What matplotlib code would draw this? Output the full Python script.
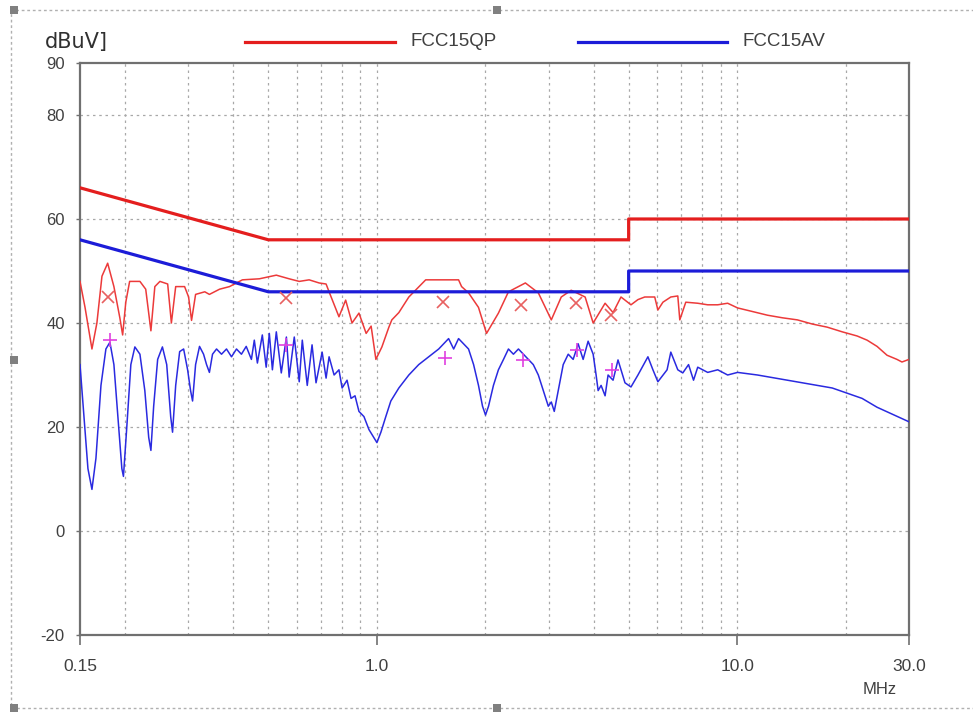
import matplotlib
matplotlib.use("Agg")
import matplotlib.pyplot as plt
from matplotlib.lines import Line2D
from matplotlib.patches import Rectangle
from matplotlib.ticker import FixedLocator, NullFormatter

plt.rcParams['font.family'] = ['Liberation Sans', 'DejaVu Sans']

# ---- limit lines ----
qp_limit_f = [0.15, 0.5, 5.0, 5.0, 30.0]
qp_limit_db = [66, 56, 56, 60, 60]
av_limit_f = [0.15, 0.5, 5.0, 5.0, 30.0]
av_limit_db = [56, 46, 46, 50, 50]

# ---- measured QP (peak) trace ----
qp_f = [0.150, 0.1549, 0.1619, 0.1671, 0.1726, 0.179, 0.1863, 0.1935, 0.197, 0.2010,
        0.206, 0.220, 0.2283, 0.236, 0.242, 0.250, 0.2627, 0.269, 0.2765, 0.2927,
        0.3003, 0.306, 0.3140, 0.333, 0.343, 0.366, 0.390, 0.4235, 0.472, 0.526,
        0.571, 0.609, 0.6488, 0.6916, 0.723, 0.737, 0.785, 0.8194, 0.8535, 0.892,
        0.9340, 0.9642, 0.994, 1.0329, 1.080, 1.1006, 1.151, 1.227, 1.3666, 1.513,
        1.686, 1.719, 1.797, 1.915, 2.016, 2.175, 2.319, 2.584, 2.807, 3.050,
        3.250, 3.463, 3.786, 3.985, 4.301, 4.526, 4.761, 5.075, 5.306, 5.541,
        5.907, 6.027, 6.224, 6.546, 6.845, 6.933, 7.203, 7.775, 8.286, 8.834,
        9.414, 10.03, 11.04, 12.14, 13.36, 14.70, 16.17, 17.79, 19.58, 21.54,
        22.95, 24.46, 26.07, 27.78, 28.68, 30.0]
qp_db = [48, 43, 35, 40, 49, 51.5, 47, 41, 37.7, 44,
         48, 48, 46.5, 38.5, 47, 48, 47.5, 40, 47, 47,
         45, 40.5, 45.5, 46, 45.5, 46.5, 47, 48.3, 48.5, 49.2,
         48.5, 48, 48.3, 47.7, 47.5, 46, 41.2, 44.4, 40, 41.9,
         38, 39.4, 33, 35.4, 39.2, 40.6, 42, 45, 48.3, 48.3,
         48.3, 47, 45.8, 43, 38, 41.9, 46, 47.7, 45.8, 40.6,
         45, 46.3, 45, 40, 43.8, 42, 45, 43.5, 44.5, 45,
         45, 42.5, 44, 45, 45.2, 40.6, 44, 43.8, 43.5, 43.5,
         43.8, 42.9, 42.2, 41.5, 41, 40.6, 39.8, 39.2, 38.3, 37.5,
         36.7, 35.5, 33.8, 33, 32.5, 33]

# ---- measured AV trace ----
av_f = [0.150, 0.1539, 0.1578, 0.1619, 0.1661, 0.1715, 0.1770, 0.1816, 0.1863, 0.1911,
        0.1960, 0.198, 0.2023, 0.2076, 0.213, 0.220, 0.227, 0.2327, 0.236, 0.2402,
        0.2464, 0.254, 0.2611, 0.2678, 0.271, 0.2765, 0.2836, 0.2909, 0.2984, 0.3041,
        0.308, 0.3140, 0.322, 0.3304, 0.3368, 0.343, 0.3499, 0.3590, 0.3706, 0.3826,
        0.3950, 0.4078, 0.4209, 0.434, 0.4486, 0.457, 0.4661, 0.481, 0.493, 0.503,
        0.513, 0.526, 0.543, 0.561, 0.571, 0.590, 0.609, 0.621, 0.641, 0.661,
        0.678, 0.705, 0.723, 0.737, 0.7610, 0.785, 0.801, 0.8267, 0.8480, 0.8699,
        0.892, 0.921, 0.951, 0.982, 1.0005, 1.0264, 1.059, 1.0936, 1.151, 1.227,
        1.307, 1.393, 1.485, 1.533, 1.582, 1.634, 1.686, 1.741, 1.797, 1.856,
        1.915, 1.965, 2.003, 2.042, 2.107, 2.175, 2.247, 2.319, 2.394, 2.472,
        2.551, 2.634, 2.718, 2.807, 2.898, 2.992, 3.050, 3.108, 3.189, 3.291,
        3.398, 3.507, 3.621, 3.738, 3.859, 3.985, 4.061, 4.114, 4.193, 4.301,
        4.384, 4.526, 4.671, 4.884, 5.075, 5.306, 5.655, 5.839, 6.027, 6.392,
        6.546, 6.845, 7.067, 7.332, 7.569, 7.775, 8.286, 8.834, 9.414, 10.03,
        11.39, 12.53, 13.79, 15.17, 16.70, 18.37, 20.21, 22.23, 24.46, 26.91, 30.0]
av_db = [32, 22, 12, 8, 14, 28, 35, 36.3, 32, 22,
         12, 10.5, 20, 32, 35.4, 34, 27, 18, 15.5, 24,
         33, 35.4, 32, 22, 19, 28, 34.5, 35, 31, 27,
         25, 32, 35.5, 34, 32, 30.5, 34, 35, 34, 35,
         33.5, 35, 34, 35.5, 33, 36.7, 32.3, 37.7, 31.5, 38,
         31, 38.3, 30.4, 37.3, 29.6, 37.3, 28.7, 36.7, 28, 35.8,
         28.5, 34.4, 29.4, 33.5, 30, 31, 27.5, 29, 25.5, 26,
         23, 22, 19.5, 17.9, 17, 19, 22, 25, 27.5, 30,
         32, 33.5, 35, 36, 37, 35, 37, 36, 35, 32,
         28, 24, 22.3, 24, 28, 31, 33, 35, 34, 35,
         34, 33, 32, 30, 27, 24, 24.8, 23, 27, 32,
         34, 33, 36, 33, 36.5, 34, 30, 27, 28, 26,
         30, 29, 32.9, 28.5, 27.7, 30, 33.5, 31, 28.7, 31,
         34.4, 31, 30.4, 32, 29, 31.5, 30.5, 31, 30, 30.5,
         30, 29.5, 29, 28.5, 28, 27.5, 26.5, 25.5, 23.8, 22.5, 21]

# ---- final measurement markers ----
qp_mark_f = [0.179, 0.56, 1.53, 2.52, 3.58, 4.47]
qp_mark_db = [45.0, 44.8, 44.0, 43.5, 43.8, 41.5]
av_mark_f = [0.182, 0.56, 1.55, 2.55, 3.60, 4.50]
av_mark_db = [36.7, 35.8, 33.3, 32.9, 34.8, 31.0]

x_ticks = [0.15, 1.0, 10.0, 30.0]
x_ticklabels = ["0.15", "1.0", "10.0", "30.0"]
y_ticks = [-20, 0, 20, 40, 60, 80, 90]
y_grid = [0, 20, 40, 60, 80]
x_grid = [0.2, 0.3, 0.4, 0.5, 0.6, 0.7, 0.8, 0.9, 1, 2, 3, 4, 5, 6, 7, 8, 9, 10, 20]

W, H = 973, 713
fig = plt.figure(figsize=(W / 100, H / 100), dpi=100)
ax = fig.add_axes([80 / W, (H - 635) / H, (909 - 80) / W, (635 - 63) / H])
ax.set_xscale('log')
ax.set_xlim(0.15, 30)
ax.set_ylim(-20, 90)

for g in x_grid:
    ax.axvline(g, color='#a8a8a8', lw=0.9, ls=(0, (2, 3)), zorder=1)
for g in y_grid:
    ax.axhline(g, color='#a8a8a8', lw=0.9, ls=(0, (2, 3)), zorder=1)

ax.plot(qp_f, qp_db, color='#ec3a3a', lw=1.1, zorder=3)
ax.plot(av_f, av_db, color='#2a2ae0', lw=1.1, zorder=3)
ax.plot(qp_limit_f, qp_limit_db, color='#e41e1e', lw=2.3, zorder=4)
ax.plot(av_limit_f, av_limit_db, color='#1c1cd8', lw=2.3, zorder=4)
ax.plot(qp_mark_f, qp_mark_db, ls='none', marker='x', ms=9, mew=1.2,
        color='#e86060', zorder=5)
ax.plot(av_mark_f, av_mark_db, ls='none', marker='+', ms=10, mew=1.2,
        color='#e040e0', zorder=5)

ax.xaxis.set_major_locator(FixedLocator(x_ticks))
ax.xaxis.set_minor_locator(FixedLocator([]))
ax.xaxis.set_minor_formatter(NullFormatter())
ax.set_xticklabels(x_ticklabels)
ax.set_yticks(y_ticks)
ax.set_yticklabels([str(v) for v in y_ticks])
ax.tick_params(axis='x', direction='out', length=7, width=1.2, color='#707070',
               labelsize=12.5, labelcolor='#404040', pad=10)
ax.tick_params(axis='y', direction='out', length=3, width=1.0, color='#707070',
               labelsize=12, labelcolor='#404040', pad=8)
for s in ax.spines.values():
    s.set_color('#707070')
    s.set_linewidth(1.6)

# legend / titles
fig.add_artist(Line2D([245 / W, 395 / W], [(H - 42) / H] * 2, color='#e41e1e', lw=2.3))
fig.text(410 / W, (H - 42) / H, 'FCC15QP', fontsize=13.5, color='#404040', va='center')
fig.add_artist(Line2D([578 / W, 727 / W], [(H - 42) / H] * 2, color='#1c1cd8', lw=2.3))
fig.text(742 / W, (H - 42) / H, 'FCC15AV', fontsize=13.5, color='#404040', va='center')
fig.text(45 / W, (H - 42) / H, 'dBuV]', fontsize=15, color='#303030', va='center',
         family=['DejaVu Sans'])
fig.text(880 / W, (H - 690) / H, 'MHz', fontsize=12, color='#404040',
         ha='center', va='center')

# selection frame (right edge lies outside the picture)
fig.add_artist(Rectangle((11 / W, (H - 708) / H), 1000 / W, 698 / H, fill=False,
                         ec='#b0b0b0', lw=1.0, ls=(0, (2, 2)), transform=fig.transFigure))
for (px, py) in [(14, 10), (497, 10), (14, 360), (14, 708), (497, 708)]:
    fig.add_artist(Rectangle(((px - 4) / W, (H - py - 4) / H), 8 / W, 8 / H,
                             fc='#808080', ec='none', transform=fig.transFigure))

fig.savefig('out.png', dpi=100)
